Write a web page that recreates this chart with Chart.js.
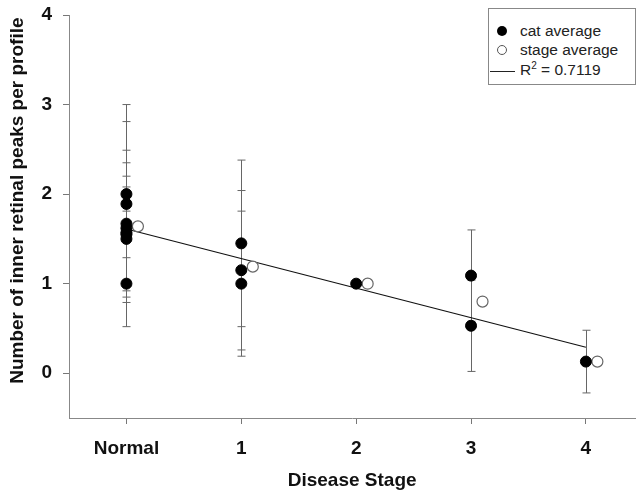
<!DOCTYPE html>
<html>
<head>
<meta charset="utf-8">
<script src="https://cdn.jsdelivr.net/npm/chart.js@4.4.1/dist/chart.umd.min.js"></script>
<style>
  html, body { margin: 0; padding: 0; background: #fff; }
  #wrap { position: relative; width: 642px; height: 493px; }
  #legend {
    position: absolute; left: 488px; top: 8px; width: 148px; height: 77px;
    border: 1px solid #888; box-sizing: border-box; background: #fff;
    font-family: 'Liberation Sans', Arial, sans-serif; font-size: 15.5px; color: #222;
  }
  .row { position: absolute; left: 0; height: 18px; line-height: 18px; }
  .row span.lbl { position: absolute; left: 31px; white-space: nowrap; }
  .dot { position: absolute; width: 10px; height: 10px; border-radius: 50%; top: 4px; left: 8px; box-sizing: border-box; }
  .sym-line { position: absolute; left: 1px; width: 25px; top: 10px; border-top: 1px solid #222; }
  sup { font-size: 10px; line-height: 0; }
</style>
</head>
<body>
<div id="wrap">
  <canvas id="chart" width="642" height="493"></canvas>
  <div id="legend">
    <div class="row" style="top:13px"><div class="dot" style="background:#000"></div><span class="lbl">cat average</span></div>
    <div class="row" style="top:32px"><div class="dot" style="background:#fff;border:1px solid #555"></div><span class="lbl">stage average</span></div>
    <div class="row" style="top:52px"><div class="sym-line"></div><span class="lbl">R<sup>2</sup> = 0.7119</span></div>
  </div>
</div>
<script>
// Data
const stageLabels = ['Normal', '1', '2', '3', '4'];
const yTicks = [0, 1, 2, 3, 4];

// individual cats (filled circles) with +/- error
const catX = [0, 0, 0, 0, 0, 0, 0, 0, 1, 1, 1, 2, 3, 3, 4];
const catY = [2.0, 1.89, 1.67, 1.62, 1.57, 1.55, 1.5, 1.0, 1.45, 1.15, 1.0, 1.0, 1.09, 0.53, 0.13];
const catErr = [1.0, 0.92, 0.82, 0.58, 0.78, 0.26, 0.58, 0.48, 0.93, 0.89, 0.81, 0.0, 0.51, 0.51, 0.35];

// stage averages (open circles), drawn slightly right of each stage
const stageX = [0.1, 1.1, 2.1, 3.1, 4.1];
const stageY = [1.64, 1.19, 1.0, 0.80, 0.13];

// regression line end points
const fitX = [0, 4];
const fitY = [1.61, 0.29];

const font = "'Liberation Sans', Arial, sans-serif";

// Error bars behind the filled circles
const errorBars = {
    id: 'errorBars',
    beforeDatasetsDraw(chart) {
        const ctx = chart.ctx;
        const xs = chart.scales.x, ys = chart.scales.y;
        ctx.save();
        ctx.strokeStyle = '#666';
        ctx.lineWidth = 1;
        catX.forEach((xv, i) => {
            if (!catErr[i]) return;
            const px = Math.round(xs.getPixelForValue(xv)) + 0.5;
            const top = ys.getPixelForValue(catY[i] + catErr[i]);
            const bot = ys.getPixelForValue(catY[i] - catErr[i]);
            ctx.beginPath();
            ctx.moveTo(px, top); ctx.lineTo(px, bot);
            ctx.moveTo(px - 4, top); ctx.lineTo(px + 4, top);
            ctx.moveTo(px - 4, bot); ctx.lineTo(px + 4, bot);
            ctx.stroke();
        });
        ctx.restore();
    }
};

new Chart(document.getElementById('chart'), {
    type: 'scatter',
    data: {
        datasets: [
            {
                label: 'regression',
                type: 'line',
                data: fitX.map((x, i) => ({ x: x, y: fitY[i] })),
                borderColor: '#111',
                borderWidth: 1.2,
                pointRadius: 0,
                fill: false,
                order: 3
            },
            {
                label: 'stage average',
                data: stageX.map((x, i) => ({ x: x, y: stageY[i] })),
                backgroundColor: '#fff',
                borderColor: '#666',
                borderWidth: 1.2,
                pointRadius: 5.5,
                order: 2
            },
            {
                label: 'cat average',
                data: catX.map((x, i) => ({ x: x, y: catY[i] })),
                backgroundColor: '#000',
                borderColor: '#000',
                borderWidth: 1,
                pointRadius: 5.5,
                order: 1
            }
        ]
    },
    options: {
        responsive: false,
        animation: false,
        layout: { padding: { top: 15, right: 0, left: 0, bottom: 0 } },
        plugins: {
            legend: { display: false },
            tooltip: { enabled: false }
        },
        scales: {
            x: {
                type: 'linear',
                min: -0.5,
                max: 4.43,
                afterBuildTicks: s => { s.ticks = stageLabels.map((_, i) => ({ value: i })); },
                afterFit: s => { s.height = 75; s.paddingLeft = 0; s.paddingRight = 0; },
                grid: { drawOnChartArea: false, drawTicks: true, tickLength: 6, color: '#777' },
                border: { color: '#888', width: 1 },
                ticks: {
                    color: '#111',
                    padding: 13,
                    font: { family: font, size: 19, weight: 'bold' },
                    callback: v => stageLabels[v]
                },
                title: {
                    display: true,
                    text: 'Disease Stage',
                    color: '#111',
                    padding: { top: 0, bottom: 1 },
                    font: { family: font, size: 19, weight: 'bold' }
                }
            },
            y: {
                min: -0.5,
                max: 4,
                afterBuildTicks: s => { s.ticks = yTicks.map(v => ({ value: v })); },
                afterFit: s => { s.width = 69; s.paddingTop = 0; s.paddingBottom = 0; },
                grid: { drawOnChartArea: false, drawTicks: true, tickLength: 6, color: '#777' },
                border: { color: '#888', width: 1 },
                ticks: {
                    color: '#111',
                    padding: 11,
                    font: { family: font, size: 19, weight: 'bold' }
                },
                title: {
                    display: true,
                    text: '      Number of inner retinal peaks per profile',
                    color: '#111',
                    padding: { top: 6, bottom: 0 },
                    font: { family: font, size: 19, weight: 'bold' }
                }
            }
        }
    },
    plugins: [errorBars]
});
</script>
</body>
</html>
